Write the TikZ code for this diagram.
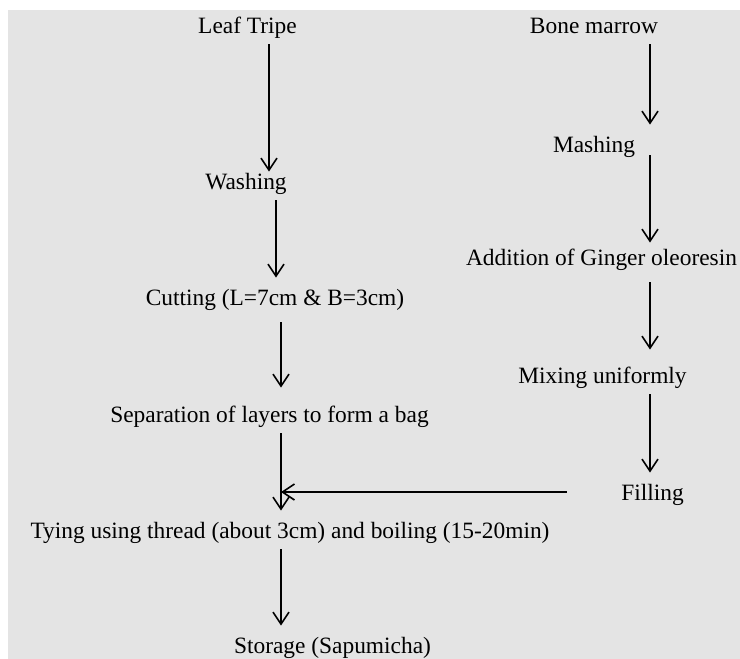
\documentclass[tikz,border=0pt]{standalone}
\usepackage{fontspec}
\setmainfont{Liberation Serif}
\usepackage{tikz}
\usetikzlibrary{arrows.meta}
\definecolor{bggray}{RGB}{228,228,228}
\tikzset{
  stage/.style={anchor=base, inner xsep=2pt, inner ysep=2.5pt,
    text height=11pt, text depth=3pt, font=\fontsize{11.7}{14}\selectfont},
  flow/.style={-{Straight Barb[length=6pt,width=8pt]}, line width=0.8pt}
}

\begin{document}
\begin{tikzpicture}[x=0.5pt, y=-0.5pt]
      \useasboundingbox (0, 0) rectangle (740, 659);
      \fill [bggray] (8, 9.5) rectangle (740, 659);

      \coordinate (colA) at (269, 0);
      \coordinate (colB) at (276, 0);
      \coordinate (colC) at (281, 0);
      \coordinate (colR) at (650, 0);

      % left column
      \node [stage] (tripe) at (247.5, 33) {Leaf Tripe};
      \node [stage] (wash) at (246, 189) {Washing};
      \node [stage] (cut) at (275, 305) {Cutting (L=7cm \& B=3cm)};
      \node [stage] (sep) at (269.5, 422) {Separation of layers to form a bag};
      \node [stage] (tie) at (290, 538) {Tying using thread (about 3cm) and boiling (15-20min)};
      \node [stage] (store) at (332.5, 653) {Storage (Sapumicha)};

      % right column
      \node [stage] (bone) at (594, 33) {Bone marrow};
      \node [stage] (mash) at (594, 152) {Mashing};
      \node [stage] (ginger) at (601.5, 265) {Addition of Ginger oleoresin};
      \node [stage] (mix) at (602.5, 383) {Mixing uniformly};
      \node [stage] (fill) at (652.5, 500) {Filling};

      \draw [flow, shorten >=-5pt] (tripe.south -| colA) -- (wash.north -| colA);
      \draw [flow] (wash.south -| colB) -- (cut.north -| colB);
      \draw [flow, shorten <=3pt, shorten >=3.5pt] (cut.south -| colC) -- (sep.north -| colC);
      \draw [flow] (sep.south -| colC) -- (tie.north -| colC);
      \draw [flow] (tie.south -| colC) -- (store.north -| colC);

      \draw [flow] (bone.south -| colR) -- (mash.north -| colR);
      \draw [flow, shorten <=-4pt, shorten >=-2.5pt] (mash.south -| colR) -- (ginger.north -| colR);
      \draw [flow, shorten <=3pt, shorten >=3pt] (ginger.south -| colR) -- (mix.north -| colR);
      \draw [flow] (mix.south -| colR) -- (fill.north -| colR);

      \draw [flow, shorten <=25pt] (fill.west) -- (fill.west -| colC);
    \end{tikzpicture}
\end{document}
